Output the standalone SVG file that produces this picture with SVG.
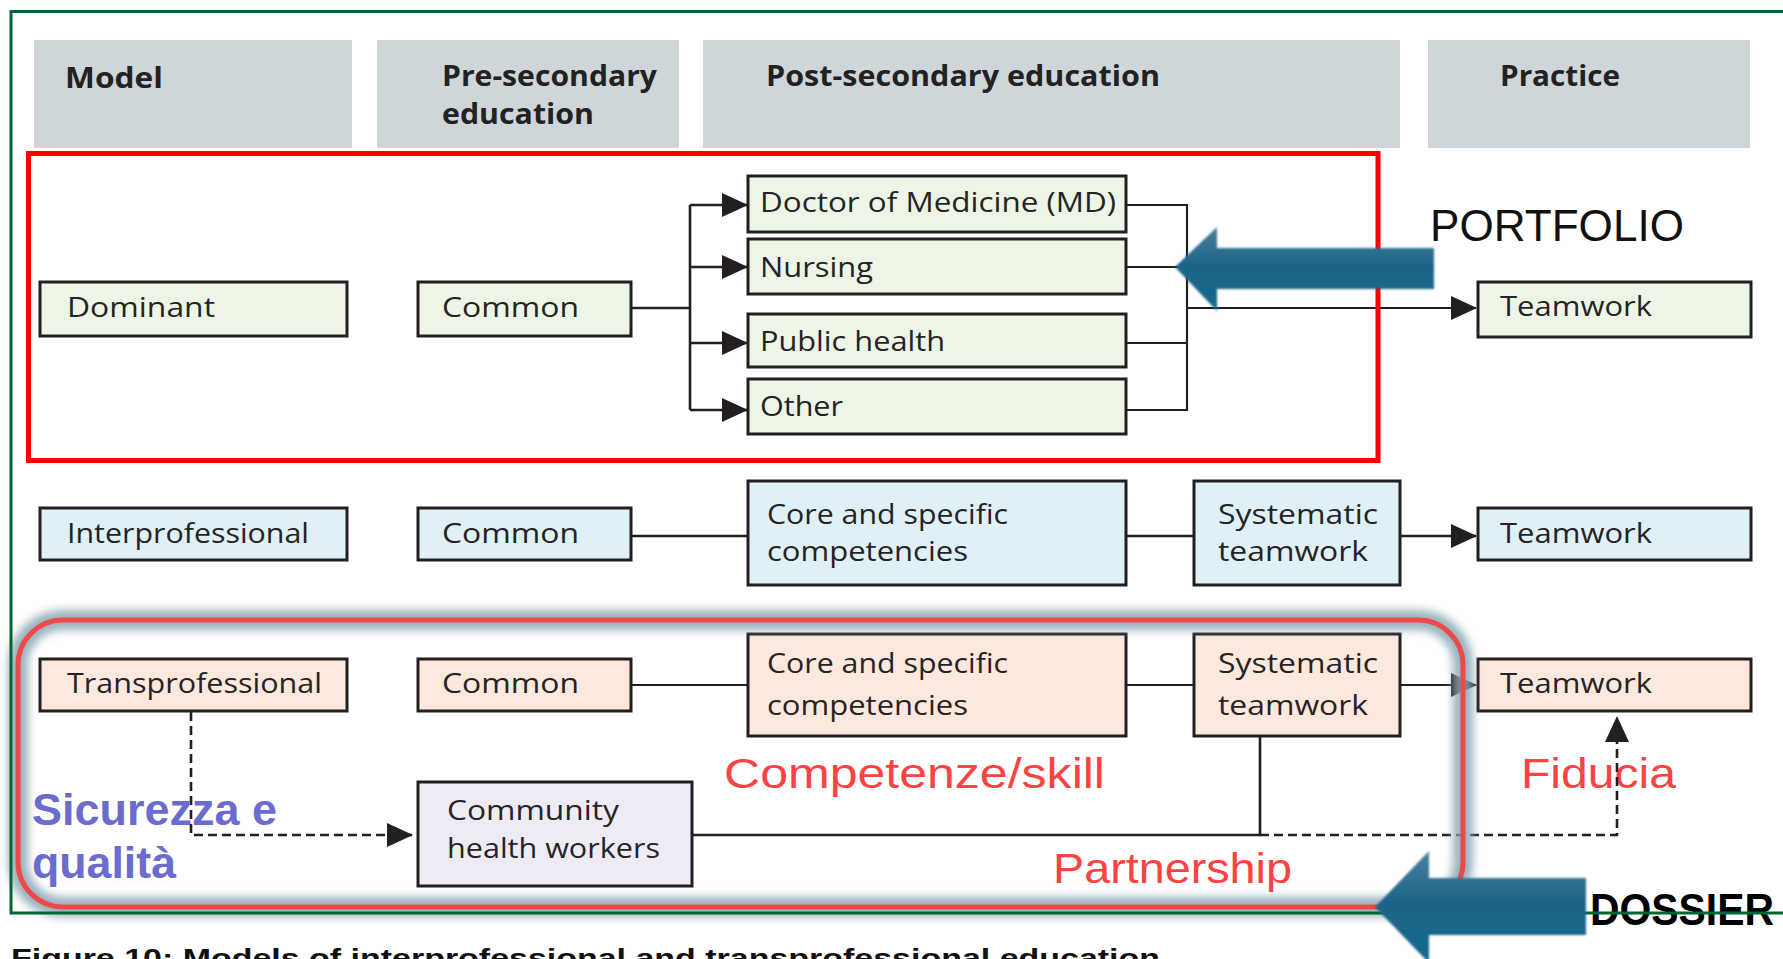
<svg xmlns="http://www.w3.org/2000/svg" width="1783" height="959" viewBox="0 0 1783 959">
<style>
.hdr{fill:#cfd6d9}
.ht{font-family:"Open Sans","Liberation Sans",sans-serif;font-weight:bold;font-size:29px;fill:#222}
.nt{font-family:"Open Sans","Liberation Sans",sans-serif;font-size:28px;fill:#262324}
.box{stroke:#231f20;stroke-width:3}
.g{fill:#edf5e6}.b{fill:#dff0f7}.p{fill:#fce8dc}.v{fill:#eeebf5}
.ln{fill:none;stroke:#231f20;stroke-width:2.6}
.dash{fill:none;stroke:#231f20;stroke-width:2.6;stroke-dasharray:9 5}
.red{font-family:"Liberation Sans",Arial,sans-serif;font-size:43px;fill:#fb4343}
.blu{font-family:"Liberation Sans",Arial,sans-serif;font-weight:bold;font-size:45px;fill:#6b6bd0}
</style>
<defs>
<marker id="ah" markerUnits="userSpaceOnUse" markerWidth="26" markerHeight="26" viewBox="0 0 26 26" refX="25" refY="13" orient="auto">
<path d="M0,1 L26,13 L0,25 z" fill="#231f20"/>
</marker>
<linearGradient id="ag" x1="0" y1="0" x2="0" y2="1">
<stop offset="0" stop-color="#4d7f9e"/>
<stop offset="0.45" stop-color="#1c6588"/>
<stop offset="1" stop-color="#17698e"/>
</linearGradient>
<filter id="soft" x="-5%" y="-10%" width="110%" height="120%"><feGaussianBlur stdDeviation="0.8"/></filter>
<filter id="glow" x="-5%" y="-10%" width="110%" height="120%"><feGaussianBlur stdDeviation="4"/></filter>
</defs>
<rect width="1783" height="959" fill="#fff"/>

<g id="headers">
<rect class="hdr" x="34" y="40" width="318" height="108"/>
<rect class="hdr" x="377" y="40" width="302" height="108"/>
<rect class="hdr" x="703" y="40" width="697" height="108"/>
<rect class="hdr" x="1428" y="40" width="322" height="108"/>
<text class="ht" x="65" y="88" textLength="98" lengthAdjust="spacingAndGlyphs">Model</text>
<text class="ht" x="442" y="86" textLength="215" lengthAdjust="spacingAndGlyphs">Pre-secondary</text>
<text class="ht" x="442" y="124" textLength="152" lengthAdjust="spacingAndGlyphs">education</text>
<text class="ht" x="766" y="86" textLength="394" lengthAdjust="spacingAndGlyphs">Post-secondary education</text>
<text class="ht" x="1500" y="86" textLength="120" lengthAdjust="spacingAndGlyphs">Practice</text>
</g>

<g id="n-dominant"><rect class="box g" x="40" y="282" width="307" height="54"/><text class="nt" x="67" y="317" textLength="148" lengthAdjust="spacingAndGlyphs">Dominant</text></g>
<g id="n-common1"><rect class="box g" x="418" y="282" width="213" height="54"/><text class="nt" x="442" y="317" textLength="137" lengthAdjust="spacingAndGlyphs">Common</text></g>
<g id="n-md"><rect class="box g" x="748" y="176" width="378" height="56"/><text class="nt" x="760" y="212" textLength="356" lengthAdjust="spacingAndGlyphs">Doctor of Medicine (MD)</text></g>
<g id="n-nursing"><rect class="box g" x="748" y="239" width="378" height="55"/><text class="nt" x="760" y="277" textLength="113" lengthAdjust="spacingAndGlyphs">Nursing</text></g>
<g id="n-public"><rect class="box g" x="748" y="314" width="378" height="53"/><text class="nt" x="760" y="351" textLength="185" lengthAdjust="spacingAndGlyphs">Public health</text></g>
<g id="n-other"><rect class="box g" x="748" y="379" width="378" height="55"/><text class="nt" x="760" y="416" textLength="83" lengthAdjust="spacingAndGlyphs">Other</text></g>
<g id="n-team1"><rect class="box g" x="1478" y="282" width="273" height="55"/><text class="nt" x="1500" y="316" textLength="152" lengthAdjust="spacingAndGlyphs">Teamwork</text></g>

<g id="n-inter"><rect class="box b" x="40" y="508" width="307" height="52"/><text class="nt" x="67" y="543" textLength="242" lengthAdjust="spacingAndGlyphs">Interprofessional</text></g>
<g id="n-common2"><rect class="box b" x="418" y="508" width="213" height="52"/><text class="nt" x="442" y="543" textLength="137" lengthAdjust="spacingAndGlyphs">Common</text></g>
<g id="n-core2"><rect class="box b" x="748" y="481" width="378" height="104"/><text class="nt" x="767" y="524" textLength="241" lengthAdjust="spacingAndGlyphs">Core and specific</text><text class="nt" x="767" y="561" textLength="201" lengthAdjust="spacingAndGlyphs">competencies</text></g>
<g id="n-sys2"><rect class="box b" x="1194" y="481" width="206" height="104"/><text class="nt" x="1218" y="524" textLength="160" lengthAdjust="spacingAndGlyphs">Systematic</text><text class="nt" x="1218" y="561" textLength="150" lengthAdjust="spacingAndGlyphs">teamwork</text></g>
<g id="n-team2"><rect class="box b" x="1478" y="508" width="273" height="52"/><text class="nt" x="1500" y="543" textLength="152" lengthAdjust="spacingAndGlyphs">Teamwork</text></g>

<g id="n-trans"><rect class="box p" x="40" y="659" width="307" height="52"/><text class="nt" x="67" y="693" textLength="255" lengthAdjust="spacingAndGlyphs">Transprofessional</text></g>
<g id="n-common3"><rect class="box p" x="418" y="659" width="213" height="52"/><text class="nt" x="442" y="693" textLength="137" lengthAdjust="spacingAndGlyphs">Common</text></g>
<g id="n-core3"><rect class="box p" x="748" y="634" width="378" height="102"/><text class="nt" x="767" y="673" textLength="241" lengthAdjust="spacingAndGlyphs">Core and specific</text><text class="nt" x="767" y="715" textLength="201" lengthAdjust="spacingAndGlyphs">competencies</text></g>
<g id="n-sys3"><rect class="box p" x="1194" y="634" width="206" height="102"/><text class="nt" x="1218" y="673" textLength="160" lengthAdjust="spacingAndGlyphs">Systematic</text><text class="nt" x="1218" y="715" textLength="150" lengthAdjust="spacingAndGlyphs">teamwork</text></g>
<g id="n-team3"><rect class="box p" x="1478" y="659" width="273" height="52"/><text class="nt" x="1500" y="693" textLength="152" lengthAdjust="spacingAndGlyphs">Teamwork</text></g>
<g id="n-chw"><rect class="box v" x="418" y="782" width="274" height="104"/><text class="nt" x="447" y="820" textLength="172" lengthAdjust="spacingAndGlyphs">Community</text><text class="nt" x="447" y="858" textLength="213" lengthAdjust="spacingAndGlyphs">health workers</text></g>

<g id="labels">
<text x="1430" y="241" font-family="Liberation Sans, Arial, sans-serif" font-size="45" fill="#111" textLength="254" lengthAdjust="spacingAndGlyphs">PORTFOLIO</text>
<text class="blu" x="32" y="825" textLength="245" lengthAdjust="spacingAndGlyphs">Sicurezza e</text>
<text class="blu" x="32" y="878" textLength="144" lengthAdjust="spacingAndGlyphs">qualità</text>
<text class="red" x="724" y="788" textLength="381" lengthAdjust="spacingAndGlyphs">Competenze/skill</text>
<text class="red" x="1521" y="788" textLength="155" lengthAdjust="spacingAndGlyphs">Fiducia</text>
<text class="red" x="1053" y="883" font-size="42" textLength="239" lengthAdjust="spacingAndGlyphs">Partnership</text>
</g>

<g id="connectors">
<path class="ln" d="M632,308 H690"/>
<path class="ln" d="M690,205 V410"/>
<path class="ln" d="M690,205 H747" marker-end="url(#ah)"/>
<path class="ln" d="M690,267 H747" marker-end="url(#ah)"/>
<path class="ln" d="M690,343 H747" marker-end="url(#ah)"/>
<path class="ln" d="M690,410 H747" marker-end="url(#ah)"/>
<path class="ln" style="stroke-width:2.2" d="M1127,205 H1187 V410 H1127 M1127,267 H1187 M1127,343 H1187"/>
<path class="ln" style="stroke-width:2.2" d="M1187,308 H1476" marker-end="url(#ah)"/>
<path class="ln" d="M632,536 H747 M1127,536 H1193"/>
<path class="ln" d="M1401,536 H1476" marker-end="url(#ah)"/>
<path class="ln" style="stroke-width:2.2" d="M632,685 H747 M1127,685 H1193"/>
<path class="ln" style="stroke-width:2.2" d="M1401,685 H1476" marker-end="url(#ah)"/>
<path class="ln" d="M693,835 H1260 V737"/>
<path class="dash" d="M1260,835 H1617 V717" marker-end="url(#ah)"/>
<path class="dash" d="M191,712 V835 H412" marker-end="url(#ah)"/>
</g>

<g id="highlights">
<rect x="28.5" y="153.5" width="1349.5" height="307" fill="none" stroke="#ff0000" stroke-width="5"/>
<rect x="18" y="620" width="1445" height="287" rx="45" ry="45" fill="none" stroke="#88a6b4" stroke-width="20" opacity="0.85" filter="url(#glow)"/>
<rect x="18" y="620" width="1445" height="287" rx="45" ry="45" fill="none" stroke="#ee4848" stroke-width="5"/>
</g>

<text x="1590" y="925" font-family="Liberation Sans, Arial, sans-serif" font-weight="bold" font-size="44" fill="#000" textLength="184" lengthAdjust="spacingAndGlyphs">DOSSIER</text>
<path d="M1800,11.5 H11 V913 H1800" fill="none" stroke="#006633" stroke-width="3"/>

<g id="arrows">
<path d="M1175,267 L1217,227 L1217,248 L1434,248 L1434,289 L1217,289 L1217,311 Z" fill="url(#ag)" filter="url(#soft)"/>
<path d="M1375,907 L1429,851 L1429,878 L1586,878 L1586,935 L1429,935 L1429,963 Z" fill="url(#ag)" filter="url(#soft)"/>
</g>

<text x="11" y="967" font-family="Liberation Sans, Arial, sans-serif" font-weight="bold" font-size="26" fill="#111" textLength="1149" lengthAdjust="spacingAndGlyphs">Figure 10: Models of interprofessional and transprofessional education</text>
</svg>
